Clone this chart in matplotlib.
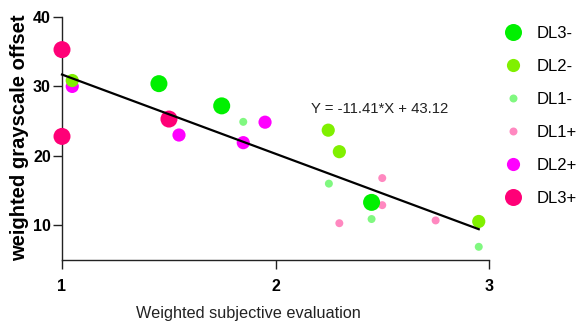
import matplotlib
matplotlib.use("Agg")
import matplotlib.pyplot as plt
from matplotlib.lines import Line2D
import numpy as np

plt.rcParams['font.family'] = ['Liberation Sans', 'DejaVu Sans']

# ---- data ----
dl3m_x = [1.454, 1.748, 2.450]
dl3m_y = [30.4, 27.2, 13.3]
dl2m_x = [1.048, 2.247, 2.299, 2.952]
dl2m_y = [30.85, 23.7, 20.6, 10.55]
dl1m_x = [1.849, 2.250, 2.450, 2.952]
dl1m_y = [24.9, 16.0, 10.9, 6.9]
dl1p_x = [2.299, 2.500, 2.500, 2.750]
dl1p_y = [10.3, 16.8, 12.9, 10.7]
dl2p_x = [1.048, 1.548, 1.849, 1.951]
dl2p_y = [30.0, 23.0, 21.9, 24.85]
dl3p_x = [1.0, 1.0, 1.501]
dl3p_y = [35.3, 22.8, 25.3]

slope = -11.41
intercept = 43.12
fit_label = "Y = -11.41*X + 43.12"

series = [
    ("DL3-", dl3m_x, dl3m_y, "#00f000", 150),
    ("DL2-", dl2m_x, dl2m_y, "#80f000", 90),
    ("DL1-", dl1m_x, dl1m_y, "#80f880", 33),
    ("DL1+", dl1p_x, dl1p_y, "#ff88c0", 33),
    ("DL2+", dl2p_x, dl2p_y, "#ff00ff", 90),
    ("DL3+", dl3p_x, dl3p_y, "#ff0077", 150),
]

fig = plt.figure(figsize=(5.81, 3.25), dpi=100)
ax = fig.add_axes([62/581, 1-260/325, 427/581, 243/325])

draw_order = ["DL1+", "DL1-", "DL2+", "DL2-", "DL3+", "DL3-"]
sd = {s[0]: s for s in series}
for i, name in enumerate(draw_order):
    _, xs, ys, c, s = sd[name]
    ax.scatter(xs, ys, s=s, color=c, edgecolors='none', zorder=3+i, clip_on=False)

allx = np.concatenate([s[1] for s in series])
xl = np.array([allx.min(), allx.max()])
ax.plot(xl, slope*xl + intercept, color='black', lw=1.6, zorder=20, clip_on=False)

ax.text(2.49, 26.8, fit_label, ha='center', va='center', fontsize=10.7, color='#222222')

ax.set_xlim(1, 3)
ax.set_ylim(5, 40)
ax.set_xticks([1, 2, 3])
ax.set_yticks([10, 20, 30, 40])
ax.spines['top'].set_visible(False)
ax.spines['right'].set_visible(False)
ax.spines['left'].set_bounds(5, 40)
ax.spines['bottom'].set_bounds(1, 3)
for sp in ['left', 'bottom']:
    ax.spines[sp].set_linewidth(1.0)
    ax.spines[sp].set_color('#222222')
ax.tick_params(axis='both', length=6.5, width=1.0, color='#222222', labelsize=11.5)
ax.tick_params(axis='y', pad=1.5)
ax.tick_params(axis='x', pad=7)
for lab in ax.get_xticklabels() + ax.get_yticklabels():
    lab.set_fontweight('bold')

ax.set_xlabel("Weighted subjective evaluation", fontsize=11.7, color='#222222')
ax.xaxis.set_label_coords((248-62)/427, -46/243, transform=ax.transAxes)
ax.set_ylabel("weighted grayscale offset", fontsize=14.5, fontweight='bold')
ax.yaxis.set_label_coords(-(62-29)/427, (260-138)/243)

handles = [Line2D([], [], marker='o', ls='none', color=c, markeredgecolor='none',
                  markersize=np.sqrt(s)) for (_, _, _, c, s) in series]
labels = [s[0] for s in series]
fig.legend(handles, labels, loc='upper left', bbox_to_anchor=(496/581, 1-19/325),
           frameon=False, fontsize=12, labelspacing=1.08, handletextpad=0.85,
           handlelength=1.2, borderaxespad=0)

fig.savefig("out.png", dpi=100)
